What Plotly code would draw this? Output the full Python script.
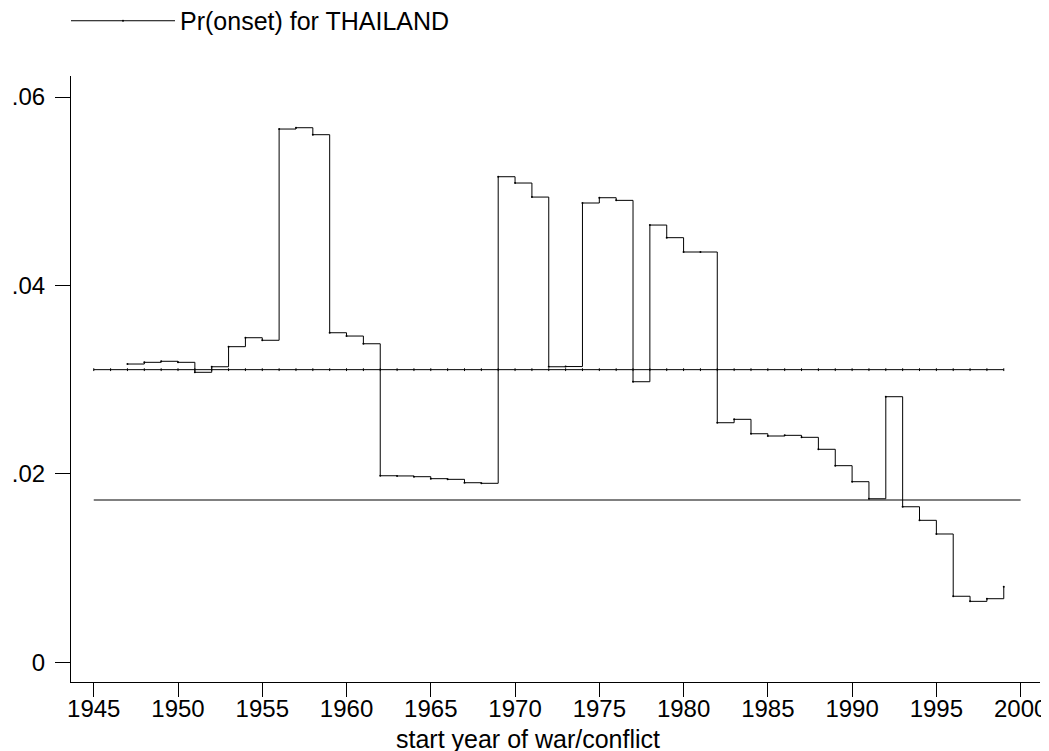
import plotly.graph_objects as go

# Step series: Pr(onset) for THAILAND, by start year
years = [1947, 1948, 1949, 1950, 1951, 1952, 1953, 1954, 1955, 1956,
         1957, 1958, 1959, 1960, 1961, 1962, 1963, 1964, 1965, 1966,
         1967, 1968, 1969, 1970, 1971, 1972, 1973, 1974, 1975, 1976,
         1977, 1978, 1979, 1980, 1981, 1982, 1983, 1984, 1985, 1986,
         1987, 1988, 1989, 1990, 1991, 1992, 1993, 1994, 1995, 1996,
         1997, 1998, 1999]
pr_onset = [0.03166, 0.03184, 0.03195, 0.03184, 0.03078, 0.03137, 0.03350, 0.03445, 0.03418, 0.05660,
            0.05674, 0.05600, 0.03498, 0.03463, 0.03381, 0.01980, 0.01978, 0.01970, 0.01949, 0.01942,
            0.01906, 0.01900, 0.05154, 0.05087, 0.04938, 0.03137, 0.03139, 0.04875, 0.04931, 0.04903,
            0.02978, 0.04641, 0.04507, 0.04355, 0.04355, 0.02543, 0.02579, 0.02426, 0.02402, 0.02409,
            0.02388, 0.02261, 0.02087, 0.01917, 0.01736, 0.02819, 0.01651, 0.01507, 0.01362, 0.00701,
            0.00647, 0.00675, 0.00802]

# Reference lines
mean_years = list(range(1945, 2000))
mean_value = 0.03106
base_years = [1945, 2000]
base_value = 0.01723

# Axis ticks
x_ticks = [1945, 1950, 1955, 1960, 1965, 1970, 1975, 1980, 1985, 1990, 1995, 2000]
y_ticks = [0, 0.02, 0.04, 0.06]
y_ticktext = ["0", ".02", ".04", ".06"]
x_title = "start year of war/conflict"

FONT = "Liberation Sans, Arial, Helvetica, sans-serif"

fig = go.Figure()

fig.add_trace(go.Scatter(
    x=base_years, y=[base_value] * len(base_years),
    mode="lines", line=dict(color="#808080", width=2),
    showlegend=False, hoverinfo="skip"))

fig.add_trace(go.Scatter(
    x=mean_years, y=[mean_value] * len(mean_years),
    mode="lines+markers", line=dict(color="black", width=1),
    marker=dict(symbol="line-ns", size=2, color="black",
                line=dict(color="black", width=1)),
    showlegend=False, hoverinfo="skip"))

fig.add_trace(go.Scatter(
    x=years, y=pr_onset, name="Pr(onset) for THAILAND",
    mode="lines+markers", line=dict(color="black", width=1, shape="hv"),
    marker=dict(size=2, color="black")))

fig.add_annotation(
    text=x_title, xref="paper", yref="paper", x=0.4716, y=-0.094,
    xanchor="center", yanchor="middle", showarrow=False,
    font=dict(size=25, family=FONT, color="black"))

fig.update_layout(
    width=1049, height=751,
    margin=dict(l=63, r=17, t=68, b=77, autoexpand=False),
    paper_bgcolor="white", plot_bgcolor="white",
    font=dict(family=FONT, size=24, color="black"),
    showlegend=True,
    legend=dict(xref="container", yref="container", x=0.0553, y=0.9827,
                xanchor="left", yanchor="middle",
                font=dict(size=25), bgcolor="rgba(0,0,0,0)",
                itemwidth=104),
    xaxis=dict(range=[1943.65, 2001.15], tickvals=x_ticks,
               ticks="outside", ticklen=14, tickwidth=1, tickcolor="black",
               showline=True, linecolor="black", linewidth=1,
               showgrid=False, zeroline=False, ticklabelstandoff=-9),
    yaxis=dict(range=[-0.00209, 0.06223], tickvals=y_ticks, ticktext=y_ticktext,
               ticks="outside", ticklen=15, tickwidth=1, tickcolor="black",
               showline=True, linecolor="black", linewidth=1,
               showgrid=False, zeroline=False, ticklabelstandoff=5),
)

fig.write_html("out.html")
